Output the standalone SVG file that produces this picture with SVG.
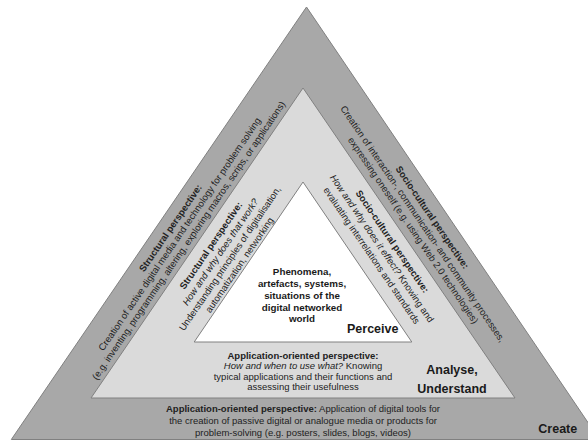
<svg xmlns="http://www.w3.org/2000/svg" width="588" height="441" viewBox="0 0 588 441">
<style>
text{font-family:"Liberation Sans",Arial,sans-serif;fill:#222;}
.s{font-size:9.5px;text-anchor:middle;}
.b{font-weight:bold;}
.i{font-style:italic;}
.lab{font-size:12.5px;font-weight:bold;fill:#1a1a1a;}
.in{font-size:9.8px;font-weight:bold;text-anchor:middle;fill:#1a1a1a;}
.tri{stroke:#808080;stroke-width:1;stroke-linejoin:miter;}
</style>
<rect width="588" height="441" fill="#ffffff"/>
<g id="create">
<polygon class="tri" points="306.5,7 11.3,439.5 599.5,439.5" fill="#a8a8a8"/>
<g transform="translate(160.4,221.1) rotate(-55.67)">
<text class="s b" x="0" y="15.5">Structural perspective:</text>
<text class="s" x="0" y="26.5">Creation of active digital media and technology for problem solving</text>
<text class="s" x="0" y="37.5">(e.g. inventing, programming, altering, exploring macros, scrips, or applications)</text>
</g>
<g transform="translate(443.6,209.6) rotate(55.67)">
<text class="s b" x="0" y="17">Socio-cultural perspective:</text>
<text class="s" x="0" y="28.5">Creation of interaction-, communication- and community processes,</text>
<text class="s" x="0" y="40">expressing oneself (e.g. using Web 2.0 technologies)</text>
</g>
<text class="s" x="303" y="411.5"><tspan class="b">Application-oriented perspective:</tspan> Application of digital tools for</text>
<text class="s" x="303" y="423.5">the creation of passive digital or analogue media or products for</text>
<text class="s" x="303" y="435.5">problem-solving (e.g. posters, slides, blogs, videos)</text>
<text class="lab" x="538.3" y="433">Create</text>
</g>
<g id="analyse">
<polygon class="tri" points="303,88 91,398 515,398" fill="#dadada"/>
<g transform="translate(200.4,238.3) rotate(-55.67)">
<text class="s b" x="0" y="16">Structural perspective:</text>
<text class="s i" x="0" y="27.5">How and why does that work?</text>
<text class="s" x="0" y="39">Understanding principles of digitalisation,</text>
<text class="s" x="0" y="50.5">automatization, networking</text>
</g>
<g transform="translate(402.8,234.2) rotate(55.67)">
<text class="s b" x="0" y="16">Socio-cultural perspective:</text>
<text class="s" x="0" y="28.5"><tspan class="i">How and why does it effect?</tspan> Knowing and</text>
<text class="s" x="0" y="41">evaluating interrelations and standards</text>
</g>
<text class="s b" x="303" y="358.5">Application-oriented perspective:</text>
<text class="s" x="303" y="369"><tspan class="i">How and when to use what?</tspan> Knowing</text>
<text class="s" x="303" y="379.5">typical applications and their functions and</text>
<text class="s" x="303" y="390">assessing their usefulness</text>
<text class="lab" x="452" y="374" text-anchor="middle">Analyse,</text>
<text class="lab" x="452" y="392.5" text-anchor="middle">Understand</text>
</g>
<g id="perceive">
<polygon class="tri" points="303,182 194.2,342 411.8,342" fill="#ffffff"/>
<text class="in" x="302" y="275">Phenomena,</text>
<text class="in" x="302" y="287">artefacts, systems,</text>
<text class="in" x="302" y="299">situations of the</text>
<text class="in" x="302" y="310.5">digital networked</text>
<text class="in" x="302" y="322">world</text>
<text class="lab" x="347" y="333">Perceive</text>
</g>
</svg>
